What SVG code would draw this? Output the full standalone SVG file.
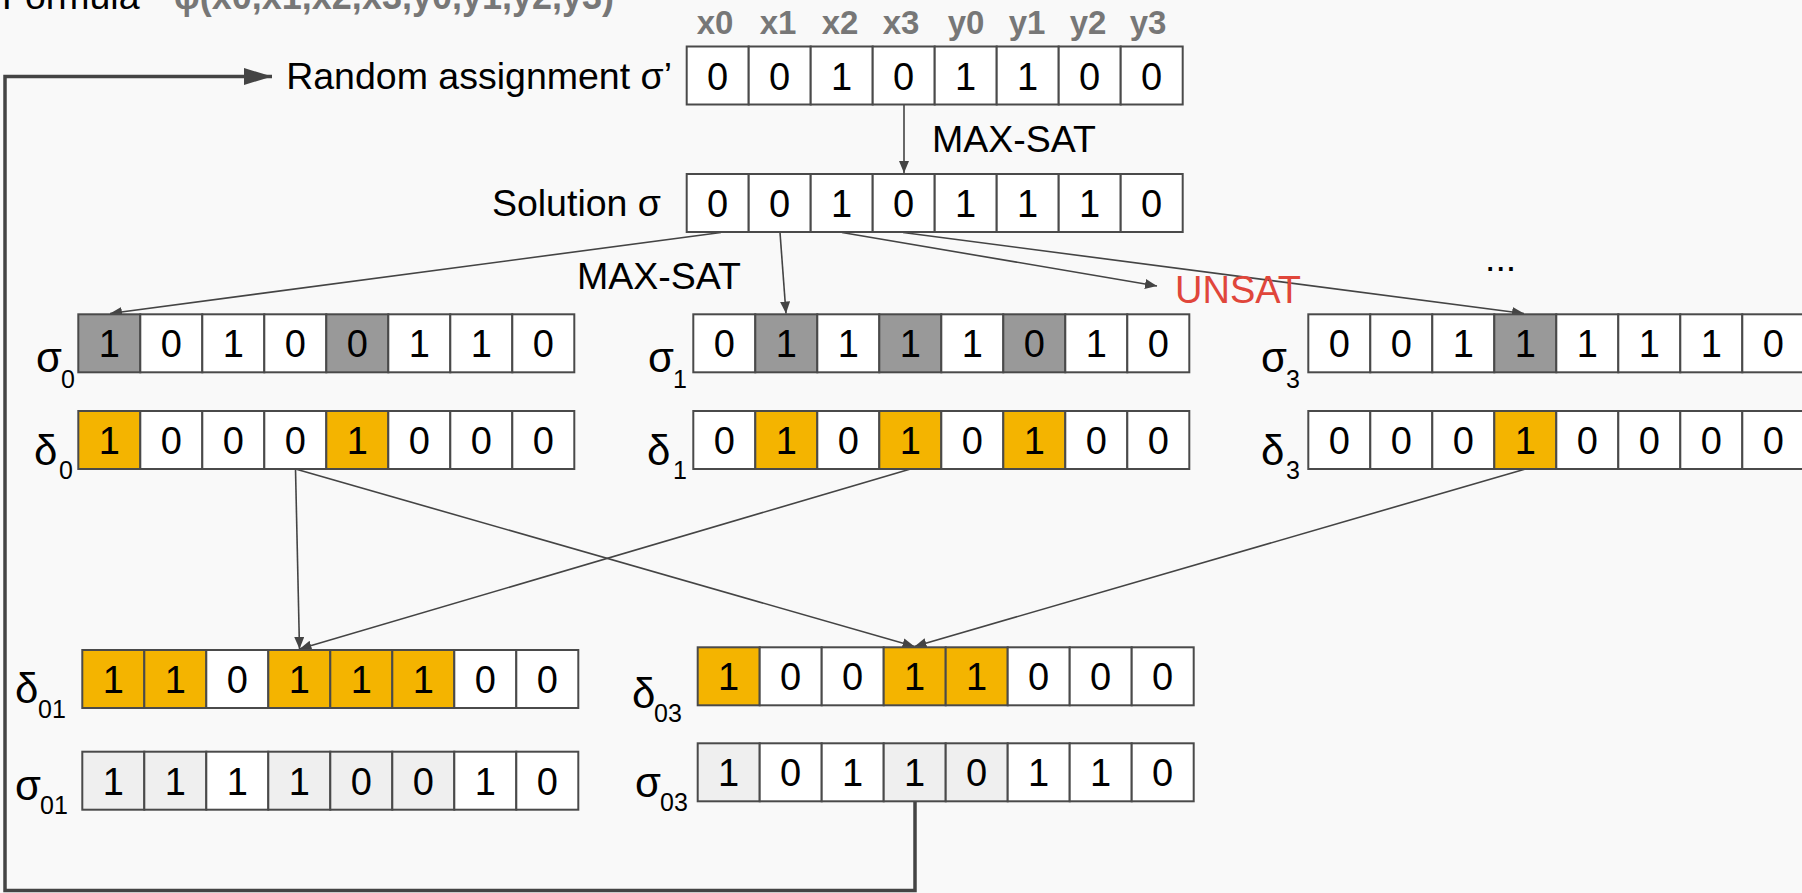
<svg xmlns="http://www.w3.org/2000/svg" width="1802" height="893" viewBox="0 0 1802 893">
<defs>
<style>
.bg{fill:#f9f9f9}
.c{fill:#ffffff;stroke:#4a4a4a;stroke-width:2}
.g{fill:#999999;stroke:#4a4a4a;stroke-width:2}
.y{fill:#f4b400;stroke:#4a4a4a;stroke-width:2}
.l{fill:#efefef;stroke:#4a4a4a;stroke-width:2}
.d{font-family:"Liberation Sans",Arial,sans-serif;font-size:38px;fill:#000;text-anchor:middle}
.t{font-family:"Liberation Sans",Arial,sans-serif;font-size:37.5px;fill:#000}
.lab{font-family:"Liberation Sans",Arial,sans-serif;font-size:42px;fill:#000}
.sub{font-family:"Liberation Sans",Arial,sans-serif;font-size:25px;fill:#000}
.hd{font-family:"Liberation Sans",Arial,sans-serif;font-size:33px;font-weight:bold;fill:#777777;text-anchor:middle}
.fb{font-family:"Liberation Sans",Arial,sans-serif;font-size:36px;font-weight:bold;fill:#777777}
.red{font-family:"Liberation Sans",Arial,sans-serif;font-size:38px;fill:#e0463b}
.cn{fill:none;stroke:#444444;stroke-width:1.6}
.loop{fill:none;stroke:#444444;stroke-width:3.5}
</style>
<marker id="ah" markerUnits="userSpaceOnUse" markerWidth="14" markerHeight="12" refX="12" refY="5" orient="auto">
<path d="M0,0 L12,5 L0,10 z" fill="#444444"/>
</marker>
<marker id="ahb" markerUnits="userSpaceOnUse" markerWidth="30" markerHeight="20" refX="28" refY="8.5" orient="auto">
<path d="M0,0 L28,8.5 L0,17 z" fill="#444444"/>
</marker>
</defs>
<rect class="bg" x="0" y="0" width="1802" height="893"/>

<g id="title">
<text class="t" x="2" y="9">Formula</text>
<text class="fb" x="174" y="9">φ(x0,x1,x2,x3,y0,y1,y2,y3)</text>
</g>

<g id="headers">
<text class="hd" x="715" y="34">x0</text>
<text class="hd" x="778" y="34">x1</text>
<text class="hd" x="840" y="34">x2</text>
<text class="hd" x="901" y="34">x3</text>
<text class="hd" x="966" y="34">y0</text>
<text class="hd" x="1027" y="34">y1</text>
<text class="hd" x="1088" y="34">y2</text>
<text class="hd" x="1148" y="34">y3</text>
</g>

<g id="connectors">
<line class="cn" x1="904" y1="104" x2="904" y2="173" marker-end="url(#ah)"/>
<line class="cn" x1="721" y1="232.5" x2="110" y2="313.5" marker-end="url(#ah)"/>
<line class="cn" x1="780" y1="232.5" x2="786" y2="313.5" marker-end="url(#ah)"/>
<line class="cn" x1="842" y1="232.5" x2="1157" y2="286" marker-end="url(#ah)"/>
<line class="cn" x1="903" y1="232.5" x2="1524" y2="313.5" marker-end="url(#ah)"/>
<line class="cn" x1="295.5" y1="469" x2="299.5" y2="649" marker-end="url(#ah)"/>
<line class="cn" x1="295.5" y1="469" x2="914.5" y2="646.5" marker-end="url(#ah)"/>
<line class="cn" x1="910.5" y1="469" x2="299.5" y2="649" marker-end="url(#ah)"/>
<line class="cn" x1="1525.5" y1="469" x2="914.5" y2="646.5" marker-end="url(#ah)"/>
<polyline class="loop" points="915,801.5 915,890.5 5,890.5 5,76.5 272,76.5" marker-end="url(#ahb)"/>
</g>

<g id="labels">
<text class="t" x="672" y="88.5" text-anchor="end">Random assignment σ’</text>
<text class="t" x="661" y="216" text-anchor="end">Solution σ</text>
<text class="t" x="932" y="152">MAX-SAT</text>
<text class="t" x="577" y="289">MAX-SAT</text>
<text class="red" x="1175" y="303">UNSAT</text>
<text class="t" x="1485" y="271">...</text>
</g>

<g id="row-sigma-prime" transform="translate(686.7,46.5)">
<rect class="c" x="0" y="0" width="62" height="58"/><rect class="c" x="62" y="0" width="62" height="58"/><rect class="c" x="124" y="0" width="62" height="58"/><rect class="c" x="186" y="0" width="62" height="58"/><rect class="c" x="248" y="0" width="62" height="58"/><rect class="c" x="310" y="0" width="62" height="58"/><rect class="c" x="372" y="0" width="62" height="58"/><rect class="c" x="434" y="0" width="62" height="58"/>
<text class="d" x="31" y="43">0</text><text class="d" x="93" y="43">0</text><text class="d" x="155" y="43">1</text><text class="d" x="217" y="43">0</text><text class="d" x="279" y="43">1</text><text class="d" x="341" y="43">1</text><text class="d" x="403" y="43">0</text><text class="d" x="465" y="43">0</text>
</g>

<g id="row-sigma" transform="translate(686.7,174)">
<rect class="c" x="0" y="0" width="62" height="58"/><rect class="c" x="62" y="0" width="62" height="58"/><rect class="c" x="124" y="0" width="62" height="58"/><rect class="c" x="186" y="0" width="62" height="58"/><rect class="c" x="248" y="0" width="62" height="58"/><rect class="c" x="310" y="0" width="62" height="58"/><rect class="c" x="372" y="0" width="62" height="58"/><rect class="c" x="434" y="0" width="62" height="58"/>
<text class="d" x="31" y="43">0</text><text class="d" x="93" y="43">0</text><text class="d" x="155" y="43">1</text><text class="d" x="217" y="43">0</text><text class="d" x="279" y="43">1</text><text class="d" x="341" y="43">1</text><text class="d" x="403" y="43">1</text><text class="d" x="465" y="43">0</text>
</g>

<g id="row-sigma0">
<text class="lab" x="36" y="371.5">σ</text><text class="sub" x="61" y="388">0</text>
<g transform="translate(78.3,314.3)">
<rect class="g" x="0" y="0" width="62" height="58"/><rect class="c" x="62" y="0" width="62" height="58"/><rect class="c" x="124" y="0" width="62" height="58"/><rect class="c" x="186" y="0" width="62" height="58"/><rect class="g" x="248" y="0" width="62" height="58"/><rect class="c" x="310" y="0" width="62" height="58"/><rect class="c" x="372" y="0" width="62" height="58"/><rect class="c" x="434" y="0" width="62" height="58"/>
<text class="d" x="31" y="43">1</text><text class="d" x="93" y="43">0</text><text class="d" x="155" y="43">1</text><text class="d" x="217" y="43">0</text><text class="d" x="279" y="43">0</text><text class="d" x="341" y="43">1</text><text class="d" x="403" y="43">1</text><text class="d" x="465" y="43">0</text>
</g>
</g>

<g id="row-delta0">
<text class="lab" x="34" y="465">δ</text><text class="sub" x="59" y="479">0</text>
<g transform="translate(78.3,411)">
<rect class="y" x="0" y="0" width="62" height="58"/><rect class="c" x="62" y="0" width="62" height="58"/><rect class="c" x="124" y="0" width="62" height="58"/><rect class="c" x="186" y="0" width="62" height="58"/><rect class="y" x="248" y="0" width="62" height="58"/><rect class="c" x="310" y="0" width="62" height="58"/><rect class="c" x="372" y="0" width="62" height="58"/><rect class="c" x="434" y="0" width="62" height="58"/>
<text class="d" x="31" y="43">1</text><text class="d" x="93" y="43">0</text><text class="d" x="155" y="43">0</text><text class="d" x="217" y="43">0</text><text class="d" x="279" y="43">1</text><text class="d" x="341" y="43">0</text><text class="d" x="403" y="43">0</text><text class="d" x="465" y="43">0</text>
</g>
</g>

<g id="row-sigma1">
<text class="lab" x="648" y="371.5">σ</text><text class="sub" x="673" y="388">1</text>
<g transform="translate(693.3,314.3)">
<rect class="c" x="0" y="0" width="62" height="58"/><rect class="g" x="62" y="0" width="62" height="58"/><rect class="c" x="124" y="0" width="62" height="58"/><rect class="g" x="186" y="0" width="62" height="58"/><rect class="c" x="248" y="0" width="62" height="58"/><rect class="g" x="310" y="0" width="62" height="58"/><rect class="c" x="372" y="0" width="62" height="58"/><rect class="c" x="434" y="0" width="62" height="58"/>
<text class="d" x="31" y="43">0</text><text class="d" x="93" y="43">1</text><text class="d" x="155" y="43">1</text><text class="d" x="217" y="43">1</text><text class="d" x="279" y="43">1</text><text class="d" x="341" y="43">0</text><text class="d" x="403" y="43">1</text><text class="d" x="465" y="43">0</text>
</g>
</g>

<g id="row-delta1">
<text class="lab" x="647" y="465">δ</text><text class="sub" x="673" y="479">1</text>
<g transform="translate(693.3,411)">
<rect class="c" x="0" y="0" width="62" height="58"/><rect class="y" x="62" y="0" width="62" height="58"/><rect class="c" x="124" y="0" width="62" height="58"/><rect class="y" x="186" y="0" width="62" height="58"/><rect class="c" x="248" y="0" width="62" height="58"/><rect class="y" x="310" y="0" width="62" height="58"/><rect class="c" x="372" y="0" width="62" height="58"/><rect class="c" x="434" y="0" width="62" height="58"/>
<text class="d" x="31" y="43">0</text><text class="d" x="93" y="43">1</text><text class="d" x="155" y="43">0</text><text class="d" x="217" y="43">1</text><text class="d" x="279" y="43">0</text><text class="d" x="341" y="43">1</text><text class="d" x="403" y="43">0</text><text class="d" x="465" y="43">0</text>
</g>
</g>

<g id="row-sigma3">
<text class="lab" x="1261" y="371.5">σ</text><text class="sub" x="1286" y="388">3</text>
<g transform="translate(1308.3,314.3)">
<rect class="c" x="0" y="0" width="62" height="58"/><rect class="c" x="62" y="0" width="62" height="58"/><rect class="c" x="124" y="0" width="62" height="58"/><rect class="g" x="186" y="0" width="62" height="58"/><rect class="c" x="248" y="0" width="62" height="58"/><rect class="c" x="310" y="0" width="62" height="58"/><rect class="c" x="372" y="0" width="62" height="58"/><rect class="c" x="434" y="0" width="62" height="58"/>
<text class="d" x="31" y="43">0</text><text class="d" x="93" y="43">0</text><text class="d" x="155" y="43">1</text><text class="d" x="217" y="43">1</text><text class="d" x="279" y="43">1</text><text class="d" x="341" y="43">1</text><text class="d" x="403" y="43">1</text><text class="d" x="465" y="43">0</text>
</g>
</g>

<g id="row-delta3">
<text class="lab" x="1261" y="465">δ</text><text class="sub" x="1286" y="479">3</text>
<g transform="translate(1308.3,411)">
<rect class="c" x="0" y="0" width="62" height="58"/><rect class="c" x="62" y="0" width="62" height="58"/><rect class="c" x="124" y="0" width="62" height="58"/><rect class="y" x="186" y="0" width="62" height="58"/><rect class="c" x="248" y="0" width="62" height="58"/><rect class="c" x="310" y="0" width="62" height="58"/><rect class="c" x="372" y="0" width="62" height="58"/><rect class="c" x="434" y="0" width="62" height="58"/>
<text class="d" x="31" y="43">0</text><text class="d" x="93" y="43">0</text><text class="d" x="155" y="43">0</text><text class="d" x="217" y="43">1</text><text class="d" x="279" y="43">0</text><text class="d" x="341" y="43">0</text><text class="d" x="403" y="43">0</text><text class="d" x="465" y="43">0</text>
</g>
</g>

<g id="row-delta01">
<text class="lab" x="15" y="703">δ</text><text class="sub" x="38" y="718">01</text>
<g transform="translate(82.3,650)">
<rect class="y" x="0" y="0" width="62" height="58"/><rect class="y" x="62" y="0" width="62" height="58"/><rect class="c" x="124" y="0" width="62" height="58"/><rect class="y" x="186" y="0" width="62" height="58"/><rect class="y" x="248" y="0" width="62" height="58"/><rect class="y" x="310" y="0" width="62" height="58"/><rect class="c" x="372" y="0" width="62" height="58"/><rect class="c" x="434" y="0" width="62" height="58"/>
<text class="d" x="31" y="43">1</text><text class="d" x="93" y="43">1</text><text class="d" x="155" y="43">0</text><text class="d" x="217" y="43">1</text><text class="d" x="279" y="43">1</text><text class="d" x="341" y="43">1</text><text class="d" x="403" y="43">0</text><text class="d" x="465" y="43">0</text>
</g>
</g>

<g id="row-sigma01">
<text class="lab" x="15" y="800">σ</text><text class="sub" x="40" y="814">01</text>
<g transform="translate(82.3,751.7)">
<rect class="l" x="0" y="0" width="62" height="58"/><rect class="l" x="62" y="0" width="62" height="58"/><rect class="c" x="124" y="0" width="62" height="58"/><rect class="l" x="186" y="0" width="62" height="58"/><rect class="l" x="248" y="0" width="62" height="58"/><rect class="l" x="310" y="0" width="62" height="58"/><rect class="c" x="372" y="0" width="62" height="58"/><rect class="c" x="434" y="0" width="62" height="58"/>
<text class="d" x="31" y="43">1</text><text class="d" x="93" y="43">1</text><text class="d" x="155" y="43">1</text><text class="d" x="217" y="43">1</text><text class="d" x="279" y="43">0</text><text class="d" x="341" y="43">0</text><text class="d" x="403" y="43">1</text><text class="d" x="465" y="43">0</text>
</g>
</g>

<g id="row-delta03">
<text class="lab" x="632" y="708">δ</text><text class="sub" x="654" y="722">03</text>
<g transform="translate(697.7,647.3)">
<rect class="y" x="0" y="0" width="62" height="58"/><rect class="c" x="62" y="0" width="62" height="58"/><rect class="c" x="124" y="0" width="62" height="58"/><rect class="y" x="186" y="0" width="62" height="58"/><rect class="y" x="248" y="0" width="62" height="58"/><rect class="c" x="310" y="0" width="62" height="58"/><rect class="c" x="372" y="0" width="62" height="58"/><rect class="c" x="434" y="0" width="62" height="58"/>
<text class="d" x="31" y="43">1</text><text class="d" x="93" y="43">0</text><text class="d" x="155" y="43">0</text><text class="d" x="217" y="43">1</text><text class="d" x="279" y="43">1</text><text class="d" x="341" y="43">0</text><text class="d" x="403" y="43">0</text><text class="d" x="465" y="43">0</text>
</g>
</g>

<g id="row-sigma03">
<text class="lab" x="635" y="796.5">σ</text><text class="sub" x="660" y="811">03</text>
<g transform="translate(697.7,743.3)">
<rect class="l" x="0" y="0" width="62" height="58"/><rect class="c" x="62" y="0" width="62" height="58"/><rect class="c" x="124" y="0" width="62" height="58"/><rect class="l" x="186" y="0" width="62" height="58"/><rect class="l" x="248" y="0" width="62" height="58"/><rect class="c" x="310" y="0" width="62" height="58"/><rect class="c" x="372" y="0" width="62" height="58"/><rect class="c" x="434" y="0" width="62" height="58"/>
<text class="d" x="31" y="43">1</text><text class="d" x="93" y="43">0</text><text class="d" x="155" y="43">1</text><text class="d" x="217" y="43">1</text><text class="d" x="279" y="43">0</text><text class="d" x="341" y="43">1</text><text class="d" x="403" y="43">1</text><text class="d" x="465" y="43">0</text>
</g>
</g>
</svg>
